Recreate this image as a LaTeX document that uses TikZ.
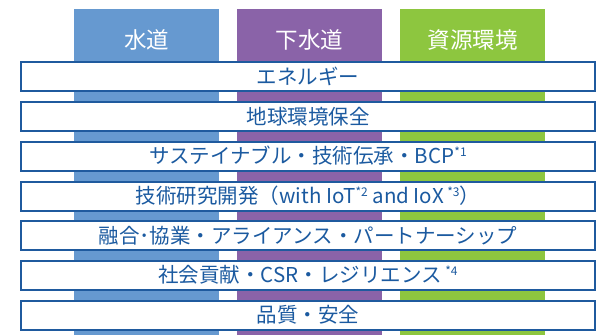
\documentclass[tikz,border=0pt]{standalone}
\usepackage{fontspec}
\setmainfont{Noto Sans CJK JP}
\definecolor{colA}{HTML}{6699D0}
\definecolor{colB}{HTML}{8A63A8}
\definecolor{colC}{HTML}{8DC63F}
\definecolor{barline}{HTML}{1F5A9E}
\definecolor{txt}{HTML}{1B5AA0}
\newcommand{\supmark}[1]{\raisebox{0.36em}{\fontsize{12}{12}\selectfont #1}}
\begin{document}
\begin{tikzpicture}[x=1pt,y=-1pt,
  colbox/.style={draw=none, minimum width=145pt, minimum height=326pt, inner sep=0pt, anchor=north west},
  head/.style={text=white, font=\fontsize{22.5}{22.5}\selectfont, inner sep=0pt},
  barbox/.style={draw=barline, line width=2pt, fill=white, minimum width=574pt, minimum height=29pt, inner sep=0pt, text=txt, font=\fontsize{20.5}{20.5}\selectfont}]
\useasboundingbox (0,0) rectangle (598,335);
\node[colbox, fill=colA] (c1) at (74,9) {};
\node[colbox, fill=colB] (c2) at (237,9) {};
\node[colbox, fill=colC] (c3) at (400,9) {};
\node[head] (h1) at (146.5,40) {水道};
\node[head] (h2) at (309.5,40) {下水道};
\node[head] (h3) at (472.5,40) {資源環境};
\node[barbox] (b1) at (308,76.5) {エネルギー};
\node[barbox] (b2) at (308,116.5) {地球環境保全};
\node[barbox] (b3) at (308,156) {サステイナブル・技術伝承・BCP\supmark{*1}};
\node[barbox] (b4) at (308,196) {技術研究開発（with IoT\supmark{*2} and IoX\,\supmark{*3}）};
\node[barbox] (b5) at (308,235.5) {融合･協業・アライアンス・パートナーシップ};
\node[barbox] (b6) at (308,275) {社会貢献・CSR・レジリエンス\,\supmark{*4}};
\node[barbox] (b7) at (308,315) {品質・安全};
\end{tikzpicture}
\end{document}
